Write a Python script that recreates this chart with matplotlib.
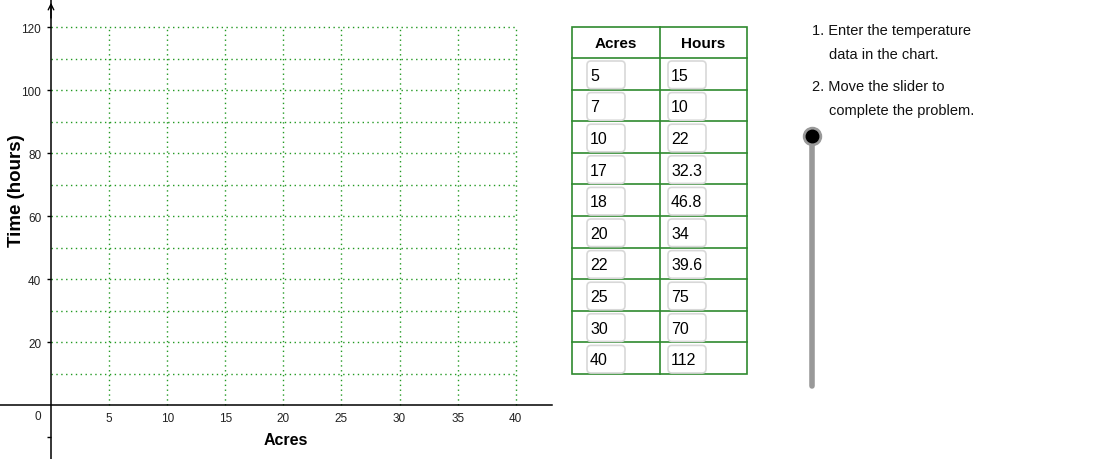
import matplotlib
matplotlib.use("Agg")
import matplotlib.pyplot as plt
from matplotlib.patches import FancyBboxPatch, Rectangle

plt.rcParams['font.family'] = ['Liberation Sans', 'DejaVu Sans']

# table data
acres = [5, 7, 10, 17, 18, 20, 22, 25, 30, 40]
hours = ['15', '10', '22', '32.3', '46.8', '34', '39.6', '75', '70', '112']
headers = ['Acres', 'Hours']

xticks = [5, 10, 15, 20, 25, 30, 35, 40]
yticks = [20, 40, 60, 80, 100, 120]
ygrid = [10, 20, 30, 40, 50, 60, 70, 80, 90, 100, 110, 120]

notes = [('1. Enter the temperature', 'data in the chart.'),
         ('2. Move the slider to', 'complete the problem.')]

W, H = 1114, 460
fig = plt.figure(figsize=(W / 100, H / 100), dpi=100)

# ---- graph ----
ax = fig.add_axes([0, 0, 1, 1])
ax.set_xlim(-4.39, 91.5)
ax.set_ylim(-17.1, 128.9)
ax.patch.set_alpha(0)
gcol = '#229922'
for x in xticks:
    ax.plot([x, x], [0, 120], color=gcol, lw=1.0, ls=(0, (1, 2.5)), zorder=1)
for y in ygrid:
    ax.plot([0, 40], [y, y], color=gcol, lw=1.0, ls=(0, (1, 2.5)), zorder=1)

ax.spines['top'].set_visible(False)
ax.spines['right'].set_visible(False)
ax.spines['left'].set_position(('data', 0))
ax.spines['bottom'].set_position(('data', 0))
ax.spines['left'].set_linewidth(1.1)
ax.spines['bottom'].set_linewidth(1.1)
ax.spines['bottom'].set_bounds(-4.39, 43.1)
ax.annotate('', xy=(0, 128.6), xytext=(0, 122),
            arrowprops=dict(arrowstyle='->', lw=1.0, color='black'))

ax.set_xticks(xticks)
ax.set_xticklabels([str(v) for v in xticks], fontsize=8.5, color='#222222')
ax.tick_params(axis='x', length=0, pad=5)
ax.set_yticks(yticks)
ax.set_yticklabels([str(v) for v in yticks], fontsize=8.5, color='#222222')
ax.set_yticks([-10], minor=True)
ax.tick_params(axis='y', which='both', length=3, width=1, direction='out', pad=4)
ax.text(-1.1, -3.5, '0', fontsize=8.5, color='#222222', ha='center', va='center')

ax.text(20.2, -11, 'Acres', fontsize=11.5, fontweight='bold', ha='center', va='center')
ax.text(-3.0, 68.5, 'Time (hours)', fontsize=13.5, fontweight='bold',
        rotation=90, ha='center', va='center')

# ---- table + slider + notes in pixel coordinates ----
ov = fig.add_axes([0, 0, 1, 1])
ov.set_xlim(0, W)
ov.set_ylim(H, 0)
ov.axis('off')
ov.patch.set_alpha(0)

tcol = '#2f8a2f'
left, mid, right = 572, 660, 747
top, head_h, row_h = 28, 31, 31.6
n = len(acres)
bottom = top + head_h + n * row_h
ov.add_patch(Rectangle((left, top), right - left, bottom - top,
                       fill=False, ec=tcol, lw=1.2))
ov.plot([mid, mid], [top, bottom], color=tcol, lw=1.2)
for i in range(n):
    yl = top + head_h + i * row_h
    ov.plot([left, right], [yl, yl], color=tcol, lw=1.2)

ov.text((left + mid) / 2, top + head_h / 2 + 1, headers[0], fontsize=11,
        fontweight='bold', ha='center', va='center')
ov.text((mid + right) / 2, top + head_h / 2 + 1, headers[1], fontsize=11,
        fontweight='bold', ha='center', va='center')

for i in range(n):
    yr = top + head_h + i * row_h
    for bx, val in ((587, str(acres[i])), (668, hours[i])):
        ov.add_patch(FancyBboxPatch((bx, yr + 3), 38, row_h - 4,
                                    boxstyle='round,pad=0,rounding_size=4',
                                    fc='white', ec='#d8d8d8', lw=1.2, zorder=3))
        ov.text(bx + 3, yr + row_h / 2 + 1.5, val, fontsize=11.5,
                ha='left', va='center', zorder=4)

# slider
ov.plot([812, 812], [137, 387], color='#999999', lw=4, solid_capstyle='round')
ov.plot([812], [137], 'o', ms=13, mfc='#999999', mec='#999999', zorder=5)
ov.plot([812], [137], 'o', ms=9, mfc='black', mec='black', zorder=6)

# notes
for k, (a, b) in enumerate(notes):
    y0 = 31 + k * 56
    ov.text(812, y0, a, fontsize=10.5, ha='left', va='center', color='#111111')
    ov.text(829, y0 + 24, b, fontsize=10.5, ha='left', va='center', color='#111111')

fig.savefig('out.png', dpi=100)
